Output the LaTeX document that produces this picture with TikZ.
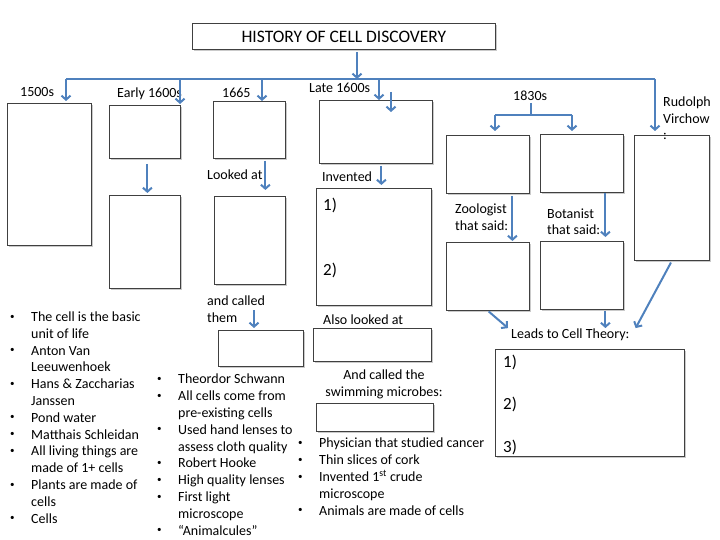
\documentclass[tikz,border=0pt]{standalone}
\usepackage{fontspec}
\setmainfont{Carlito}
\usetikzlibrary{arrows.meta,shadows}
\definecolor{arrowblue}{HTML}{4F81BD}
\tikzset{
  cellbox/.style={draw=black!75, line width=0.8pt, fill=white, inner sep=0pt, anchor=north west,
    drop shadow={shadow xshift=1.2pt, shadow yshift=-1.2pt, opacity=0.35, fill=black!60}},
  arr/.style={draw=arrowblue, line width=2pt, -{Straight Barb[length=4pt,width=9pt]}},
  barline/.style={draw=arrowblue, line width=2pt},
  lbl/.style={anchor=base west, inner sep=0pt, align=left, font=\fontsize{14}{16.8}\selectfont},
  num/.style={anchor=base west, inner sep=0pt, font=\fontsize{17}{20}\selectfont},
}
\newcommand{\bitem}[1]{\makebox[21pt][l]{\raisebox{0.35ex}{\fontsize{9}{9}\selectfont\textbullet}}#1}
\newcommand{\bcont}[1]{\hspace*{21pt}#1}
\begin{document}
\begin{tikzpicture}[x=1pt,y=-1pt]
\useasboundingbox (0,0) rectangle (720,540);
\node [cellbox, minimum width=303pt, minimum height=26pt, font=\fontsize{17.5}{20}\selectfont] (title) at (192,23) {HISTORY OF CELL DISCOVERY};
\node [cellbox, minimum width=84pt, minimum height=142pt] (box1500) at (7,103) {};
\node [cellbox, minimum width=71pt, minimum height=53pt] (boxEarlyA) at (109,105) {};
\node [cellbox, minimum width=71pt, minimum height=93pt] (boxEarlyB) at (109,195) {};
\node [cellbox, minimum width=72pt, minimum height=57pt] (boxHooke) at (213,101) {};
\node [cellbox, minimum width=71pt, minimum height=88pt] (boxLooked) at (214,196) {};
\node [cellbox, minimum width=85pt, minimum height=36pt] (boxCalled) at (218,330) {};
\node [cellbox, minimum width=113pt, minimum height=63pt] (boxLate) at (319,100) {};
\node [cellbox, minimum width=115pt, minimum height=117pt] (boxInvent) at (316,188) {};
\node [cellbox, minimum width=118pt, minimum height=33pt] (boxAlso) at (313,328) {};
\node [cellbox, minimum width=117pt, minimum height=28pt] (boxSwim) at (316,403) {};
\node [cellbox, minimum width=83pt, minimum height=58pt] (boxZooA) at (446,135) {};
\node [cellbox, minimum width=83pt, minimum height=58pt] (boxBotA) at (540,134) {};
\node [cellbox, minimum width=83pt, minimum height=68pt] (boxZooB) at (446,242) {};
\node [cellbox, minimum width=83pt, minimum height=68pt] (boxBotB) at (540,241) {};
\node [cellbox, minimum width=75pt, minimum height=125pt] (boxVirchow) at (634,135) {};
\node [cellbox, minimum width=189pt, minimum height=107pt] (boxTheory) at (495,349) {};

\node [lbl] (lb1500) at (20,97) {1500s};
\node [lbl] (lbEarly) at (117,98) {Early 1600s};
\node [lbl] (lb1665) at (222,98) {1665};
\node [lbl] (lbLate) at (309,93) {Late 1600s};
\node [lbl] (lb1830) at (513,101) {1830s};
\node [lbl] (lbVirchow) at (663,140) {Rudolph\\Virchow\\:};
\node [lbl] (lbLooked) at (207,180) {Looked at};
\node [lbl] (lbInvent) at (322,182) {Invented};
\node [lbl] (lbZoo) at (455,230) {Zoologist\\that said:};
\node [lbl] (lbBot) at (547,235) {Botanist\\that said:};
\node [lbl] (lbLeads) at (511,338) {Leads to Cell Theory:};
\node [lbl] (lbCalled) at (207,322) {and called\\them};
\node [lbl] (lbAlso) at (323,324) {Also looked at};
\node [lbl, anchor=base, align=center] (lbSwim) at (384,396) {And called the\\swimming microbes:};

\node [num] (inv1) at (323,211) {1)};
\node [num] (inv2) at (323,275) {2)};
\node [num] (th1) at (503,367) {1)};
\node [num] (th2) at (503,409) {2)};
\node [num] (th3) at (503,452) {3)};

\node [lbl] (listA) at (10,523) {\bitem{The cell is the basic}\\\bcont{unit of life}\\\bitem{Anton Van}\\\bcont{Leeuwenhoek}\\\bitem{Hans \& Zaccharias}\\\bcont{Janssen}\\\bitem{Pond water}\\\bitem{Matthais Schleidan}\\\bitem{All living things are}\\\bcont{made of 1+ cells}\\\bitem{Plants are made of}\\\bcont{cells}\\\bitem{Cells}};
\node [lbl] (listB) at (157,535) {\bitem{Theordor Schwann}\\\bitem{All cells come from}\\\bcont{pre-existing cells}\\\bitem{Used hand lenses to}\\\bcont{assess cloth quality}\\\bitem{Robert Hooke}\\\bitem{High quality lenses}\\\bitem{First light}\\\bcont{microscope}\\\bitem{“Animalcules”}};
\node [lbl] (listC) at (298,515) {\bitem{Physician that studied cancer}\\\bitem{Thin slices of cork}\\\bitem{Invented 1\textsuperscript{st} crude}\\\bcont{microscope}\\\bitem{Animals are made of cells}};

% blue bar and its arrows
\coordinate (bar) at (357,79);
\coordinate (b1) at (66,79);
\coordinate (b2) at (180,79);
\coordinate (b3) at (262,79);
\coordinate (b4) at (379,79);
\coordinate (b5) at (391,92);
\coordinate (b5e) at (391,112);
\coordinate (b6) at (655,79);
\draw [barline] (b1) -- (b6);
\draw [arr, shorten <=2pt] (bar |- title.south) -- (bar);
\draw [arr, shorten >=2pt] (b1) -- (b1 |- box1500.north);
\draw [arr, shorten >=1pt] (b2) -- (b2 |- boxEarlyA.north);
\draw [arr] (b3) -- (b3 |- boxHooke.north);
\draw [arr] (b4) -- (b4 |- boxLate.north);
\draw [arr] (b5) -- (b5e);
\draw [arr, shorten >=4pt] (b6) -- (b6 |- boxVirchow.north);

\coordinate (s0) at (531,103);
\coordinate (sL) at (495,115);
\coordinate (sR) at (572,115);
\draw [barline] (s0) -- (s0 |- sL);
\draw [barline] (sL) -- (sR);
\draw [arr, shorten >=4pt] (sL) -- (sL |- boxZooA.north);
\draw [arr, shorten >=3pt] (sR) -- (sR |- boxBotA.north);

\draw [arr, shorten <=5pt, shorten >=2pt] ([xshift=2.5pt]boxEarlyA.south) -- ([xshift=2.5pt]boxEarlyB.north);
\draw [arr, shorten <=2pt, shorten >=6pt] ([xshift=16pt]boxHooke.south) -- ([xshift=16pt]boxHooke.south |- boxLooked.north);
\coordinate (cT) at (254,310);
\draw [arr, shorten >=2pt] (cT) -- (cT |- boxCalled.north);
\draw [arr, shorten <=2pt, shorten >=3pt] ([xshift=5.5pt]boxLate.south) -- ([xshift=5.5pt]boxLate.south |- boxInvent.north);
\draw [arr, shorten <=2pt, shorten >=1pt] ([xshift=24.5pt]boxZooA.south) -- ([xshift=24.5pt]boxZooA.south |- boxZooB.north);
\draw [arr, shorten >=4pt] ([xshift=23.5pt]boxBotA.south) -- ([xshift=23.5pt]boxBotA.south |- boxBotB.north);
\draw [arr, shorten <=1pt] (boxZooB.south) -- ([xshift=-3pt]lbLeads.north west);
\draw [arr, shorten <=1pt] ([xshift=23.5pt]boxBotB.south) -- ([xshift=23.5pt]boxBotB.south |- lbLeads.north);
\draw [arr, shorten <=2pt] (boxVirchow.south) -- ([xshift=6pt]lbLeads.north east);
\end{tikzpicture}
\end{document}
